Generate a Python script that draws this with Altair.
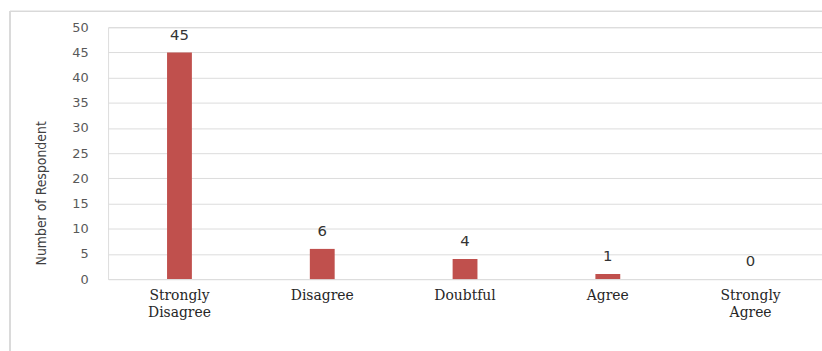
import altair as alt
import pandas as pd

categories = ["Strongly Disagree", "Disagree", "Doubtful", "Agree", "Strongly Agree"]
values = [45, 6, 4, 1, 0]
y_ticks = [0, 5, 10, 15, 20, 25, 30, 35, 40, 45, 50]

df = pd.DataFrame({"category": categories, "value": values})

x_axis = alt.Axis(
    title=None,
    labelAngle=0,
    labelFont="DejaVu Serif",
    labelFontSize=14,
    labelColor="#262626",
    labelExpr="split(datum.label, ' ')",
    labelLineHeight=17,
    labelBaseline="middle",
    labelPadding=17,
    ticks=False,
    domain=False,
)
y_axis = alt.Axis(
    title="Number of Respondent",
    values=y_ticks,
    tickCount=12,
    labelOverlap=False,
    titleFont="DejaVu Sans Condensed",
    titleFontWeight="normal",
    titleFontSize=14,
    titleColor="#404040",
    titleY=167,
    titleX=-60,
    titleAlign="center",
    labelFont="DejaVu Sans",
    labelFontSize=13,
    labelColor="#595959",
    labelPadding=20,
    ticks=False,
    domain=False,
    gridColor="#dcdcdc",
    gridWidth=1,
)

x = alt.X("category:N", sort=categories,
          scale=alt.Scale(paddingInner=0.826, paddingOuter=0.413), axis=x_axis)
y = alt.Y("value:Q", scale=alt.Scale(domain=[0, 50], nice=False), axis=y_axis)

bars = alt.Chart(df).mark_bar(color="#c0504d").encode(x=x, y=y)
text = alt.Chart(df).mark_text(
    dy=-10, baseline="bottom", font="DejaVu Sans", fontSize=15, color="#333333"
).encode(x=x, y=y, text="value:Q")

frame_left = alt.Chart(df).mark_rule(color="#d9d9d9").encode(
    x=alt.value(-99), y=alt.value(-16), y2=alt.value(400)
)
frame_top = alt.Chart(df).mark_rule(color="#d9d9d9").encode(
    x=alt.value(-99), x2=alt.value(900), y=alt.value(-16)
)

chart = (
    alt.layer(frame_left, frame_top, bars, text)
    .properties(
        width=720,
        height=254,
        autosize=alt.AutoSizeParams(type="none"),
        padding={"left": 109, "top": 26, "right": 0, "bottom": 71},
    )
    .configure_view(stroke=None)
    .configure(background="white")
)

chart.save("out.html", embed_options={"renderer": "svg", "actions": False})
